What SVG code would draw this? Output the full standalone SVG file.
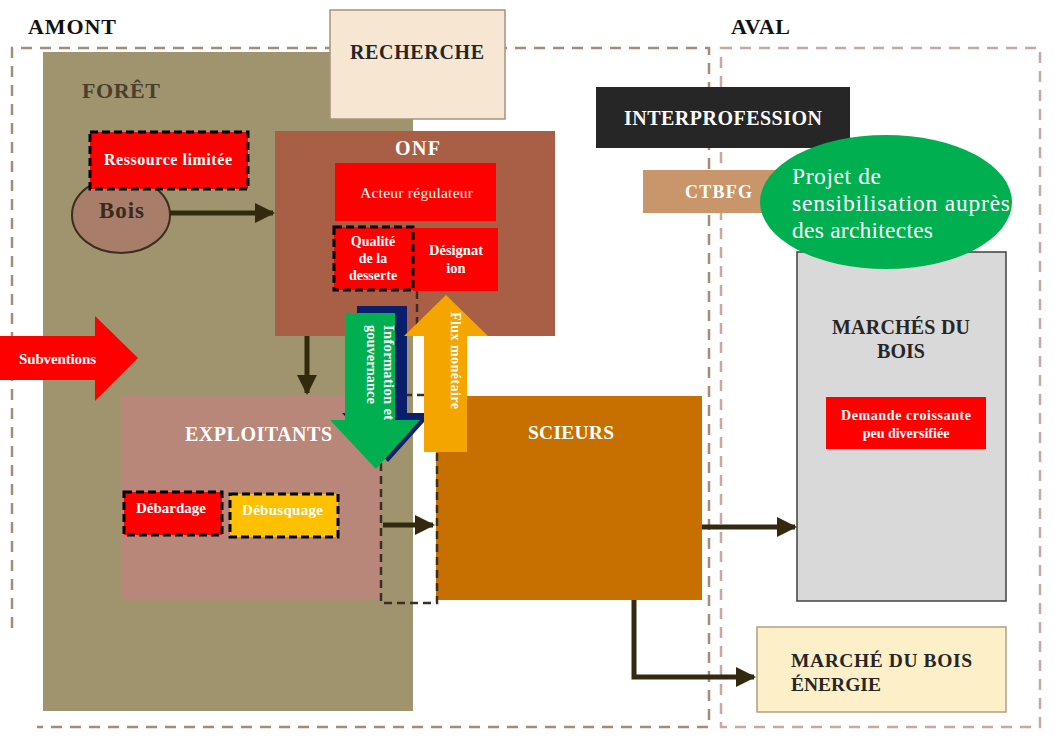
<svg xmlns="http://www.w3.org/2000/svg" width="1054" height="738" viewBox="0 0 1054 738">
<defs>
<style>
text{font-family:"Liberation Serif","Times New Roman",serif;}
.b{font-weight:bold;}
.w{fill:#ffffff;}
.d{fill:#262626;}
.zone{fill:none;stroke-width:2.5;stroke-dasharray:11 8;}
.dash{stroke:#000;stroke-width:3;stroke-dasharray:8 4;}
.conn{fill:none;stroke:#33290f;stroke-width:5;}
</style>
<marker id="ah" viewBox="0 0 10 10" refX="9" refY="5" markerWidth="4" markerHeight="4" orient="auto" markerUnits="strokeWidth">
<path d="M0,0 L10,5 L0,10 z" fill="#33290f"/>
</marker>
</defs>
<rect width="1054" height="738" fill="#ffffff"/>

<!-- zones -->
<g id="zones">
<path class="zone" stroke="#a88a78" d="M12,628 V48 H709 V727 H37"/>
<rect class="zone" stroke="#c8a8a0" x="721" y="48" width="319" height="679"/>
<text class="b" x="28" y="34" font-size="22" textLength="88" fill="#111">AMONT</text>
<text class="b" x="731" y="34" font-size="22" textLength="59" fill="#111">AVAL</text>
</g>

<g id="foret">
<rect x="43" y="52" width="370" height="659" fill="#a0946f"/>
<text class="b" x="82" y="98" font-size="22" textLength="78" fill="#4a3f2c">FORÊT</text>
</g>

<g id="recherche">
<rect x="330" y="10" width="175" height="109" fill="#f6e6d2" stroke="#a89080" stroke-width="1.5"/>
<text class="b d" x="350" y="59" font-size="20" textLength="134">RECHERCHE</text>
</g>

<g id="bois">
<ellipse cx="121" cy="215" rx="49" ry="38" fill="#a87e6b" stroke="#3b2e1e" stroke-width="2"/>
<text class="b" x="99" y="218" font-size="23" textLength="45" fill="#3a2a1a">Bois</text>
</g>

<g id="ressource">
<rect class="dash" x="90" y="132" width="158" height="57" fill="#ff0000"/>
<text class="b w" x="104" y="165" font-size="16" textLength="128">Ressource limitée</text>
</g>

<g id="onf">
<rect x="275" y="131" width="280" height="205" fill="#a95f45"/>
<text class="b w" x="395" y="155" font-size="20" textLength="45">ONF</text>
</g>

<g id="acteur">
<rect x="335" y="163" width="161" height="58" fill="#ff0000"/>
<text class="w" x="360" y="198" font-size="15.5" textLength="113">Acteur régulateur</text>
</g>

<g id="designation">
<rect x="413" y="228" width="85" height="63" fill="#ff0000"/>
<text class="b w" x="456" y="255" font-size="14.5" text-anchor="middle">Désignat</text>
<text class="b w" x="456" y="273" font-size="14.5" text-anchor="middle">ion</text>
</g>

<g id="qualite">
<rect class="dash" x="334" y="227" width="79" height="63" fill="#ff0000"/>
<text class="b w" x="373" y="246" font-size="14" text-anchor="middle">Qualité</text>
<text class="b w" x="373" y="263" font-size="14" text-anchor="middle">de la</text>
<text class="b w" x="373" y="280" font-size="14" text-anchor="middle">desserte</text>
</g>

<g id="exploitants">
<rect x="121" y="395" width="261" height="205" fill="#b8877a"/>
<text class="b w" x="185" y="441" font-size="20" textLength="147">EXPLOITANTS</text>
</g>

<g id="debardage">
<rect class="dash" x="124" y="492" width="98" height="43" fill="#ff0000"/>
<text class="b w" x="136" y="513" font-size="15" textLength="70">Débardage</text>
</g>

<g id="debusquage">
<rect class="dash" x="230" y="494" width="108" height="43" fill="#ffc000"/>
<text class="b w" x="242" y="515" font-size="15" textLength="81">Débusquage</text>
</g>

<g id="scieurs">
<rect x="436" y="396" width="266" height="204" fill="#c77000"/>
<text class="b w" x="528" y="439" font-size="19.5" textLength="86">SCIEURS</text>
</g>

<g id="interprofession">
<rect x="596" y="87" width="254" height="61" fill="#262626"/>
<text class="b w" x="624" y="125" font-size="20" textLength="198">INTERPROFESSION</text>
</g>

<g id="ctbfg">
<rect x="643" y="170" width="132" height="43" fill="#c8966a"/>
<text class="b w" x="685" y="198" font-size="18" textLength="67">CTBFG</text>
</g>

<g id="marches">
<rect x="797" y="252" width="209" height="349" fill="#d9d9d9" stroke="#404040" stroke-width="1.5"/>
<text class="b d" x="832" y="334" font-size="20" textLength="138">MARCHÉS DU</text>
<text class="b d" x="901" y="358" font-size="20" text-anchor="middle">BOIS</text>
</g>

<g id="demande">
<rect x="826" y="397" width="160" height="52" fill="#ff0000"/>
<text class="b w" x="841" y="420" font-size="14" textLength="130">Demande croissante</text>
<text class="b w" x="906" y="438" font-size="14" text-anchor="middle">peu diversifiée</text>
</g>

<g id="energie">
<rect x="757" y="627" width="249" height="85" fill="#fdf0c8" stroke="#b0a080" stroke-width="1.5"/>
<text class="b d" x="791" y="667" font-size="19.5" textLength="181">MARCHÉ DU BOIS</text>
<text class="b d" x="791" y="691" font-size="19.5">ÉNERGIE</text>
</g>

<g id="projet">
<ellipse cx="886" cy="202" rx="126" ry="67" fill="#00b050"/>
<text class="w" x="792" y="184" font-size="23.5" textLength="89">Projet de</text>
<text class="w" x="792" y="211" font-size="23.5" textLength="218">sensibilisation auprès</text>
<text class="w" x="792" y="238" font-size="23.5" textLength="141">des architectes</text>
</g>

<g id="subventions">
<path d="M0,336 H95 V316 L138,358 L95,401 V380 H0 Z" fill="#ff0000"/>
<text class="b w" x="19" y="364" font-size="15" textLength="77">Subventions</text>
</g>

<!-- connectors -->
<g id="connectors">
<path d="M417,291 V335" fill="none" stroke="#3a2e22" stroke-width="2.5" stroke-dasharray="8 5"/>
<path d="M381,463 V603 H437 V395 H381" fill="none" stroke="#3a2e22" stroke-width="2.5" stroke-dasharray="8 5"/>
<path class="conn" d="M170,213 H273" marker-end="url(#ah)"/>
<path class="conn" d="M307,336 V393" marker-end="url(#ah)"/>
<path class="conn" d="M383,525 H433" marker-end="url(#ah)"/>
<path class="conn" d="M702,527 H795" marker-end="url(#ah)"/>
<path class="conn" d="M634,600 V677 H754" marker-end="url(#ah)"/>
</g>

<g id="info">
<path d="M357,306 H407 V413 H432 L388,462 L342,413 H357 Z" fill="#0a1f6b"/>
<path d="M345,313 H395 V420 H420 L376,469 L330,420 H345 Z" fill="#00b050"/>
<text class="b w" font-size="14.5" textLength="95" transform="translate(384,325) rotate(90)">Information et</text>
<text class="b w" font-size="14.5" transform="translate(367,325) rotate(90)">gouvernance</text>
</g>

<g id="flux">
<path d="M424,452 V336 H404 L446,295 L488,336 H467 V452 Z" fill="#f5a500"/>
<text class="b w" font-size="14" textLength="97" transform="translate(451,312) rotate(90)">Flux monétaire</text>
</g>
</svg>
